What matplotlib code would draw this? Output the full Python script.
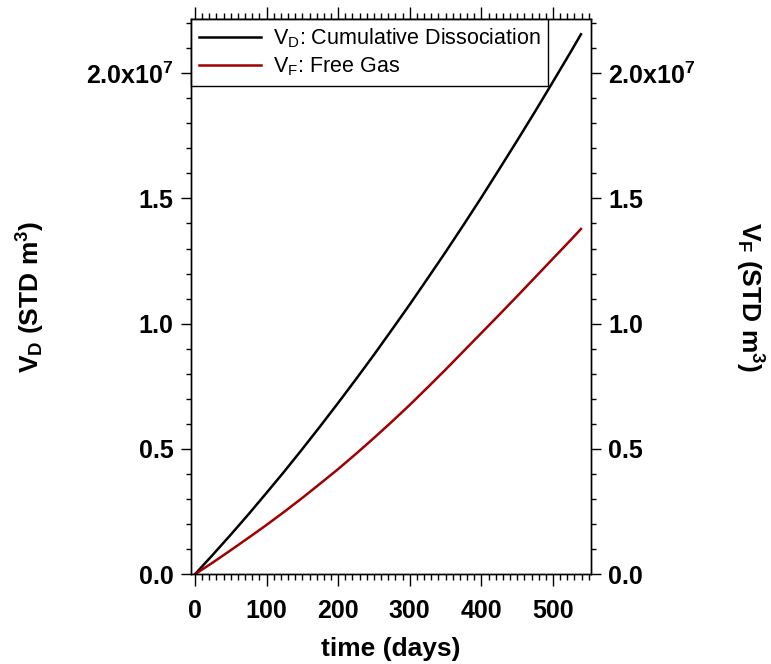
import numpy as np
import matplotlib
matplotlib.use("Agg")
import matplotlib.pyplot as plt
from matplotlib.ticker import MultipleLocator, FuncFormatter

plt.rcParams['font.family'] = ['Liberation Sans', 'DejaVu Sans']
plt.rcParams['mathtext.fontset'] = 'custom'
plt.rcParams['mathtext.rm'] = 'Liberation Sans'
plt.rcParams['mathtext.it'] = 'Liberation Sans:italic'
plt.rcParams['mathtext.bf'] = 'Liberation Sans:bold'

# time (days) and volumes (STD m^3, in units of 1e7)
time_days = [0, 25, 50, 75, 100, 125, 150, 175, 200, 225, 250, 275, 300,
             325, 350, 375, 400, 425, 450, 475, 500, 525, 539]
v_d = [0, 0.078, 0.158, 0.240, 0.325, 0.411, 0.500, 0.591, 0.684, 0.779,
       0.876, 0.976, 1.077, 1.181, 1.286, 1.394, 1.504, 1.617, 1.731, 1.847,
       1.966, 2.086, 2.155]
v_f = [0, 0.047, 0.096, 0.146, 0.197, 0.250, 0.305, 0.362, 0.420, 0.481,
       0.544, 0.609, 0.676, 0.746, 0.817, 0.890, 0.963, 1.036, 1.110, 1.185,
       1.260, 1.335, 1.378]
scale = 1e7

labels = [r'V$_\mathrm{D}$: Cumulative Dissociation', r'V$_\mathrm{F}$: Free Gas']
red = '#a00000'


def fmt(v, pos):
    v = round(v / scale, 1)
    if v == 2.0:
        return r'2.0x10$^{\mathbf{7}}$'
    return f'{v:.1f}'


fig = plt.figure(figsize=(7.71, 6.64), dpi=100)
ax = fig.add_axes([0.2477, 0.1351, 0.5188, 0.8363])

ax.plot(time_days, np.array(v_d) * scale, color='black', lw=1.8, label=labels[0])
ax.plot(time_days, np.array(v_f) * scale, color=red, lw=1.8, label=labels[1])

ax.set_xlim(-5.5, 553)
ax.set_ylim(0, 2.216e7)

ax.xaxis.set_major_locator(MultipleLocator(100))
ax.xaxis.set_minor_locator(MultipleLocator(10))
ax.yaxis.set_major_locator(MultipleLocator(0.5e7))
ax.yaxis.set_minor_locator(MultipleLocator(0.1e7))
ax.yaxis.set_major_formatter(FuncFormatter(fmt))

ax2 = ax.twinx()
ax2.set_ylim(ax.get_ylim())
ax2.yaxis.set_major_locator(MultipleLocator(0.5e7))
ax2.yaxis.set_minor_locator(MultipleLocator(0.1e7))
ax2.yaxis.set_major_formatter(FuncFormatter(fmt))

for a in (ax, ax2):
    a.tick_params(which='major', direction='out', length=7.5, width=1,
                  labelsize=18, pad=5)
    a.tick_params(which='minor', direction='out', length=3.8, width=1)
    for lab in a.get_xticklabels() + a.get_yticklabels():
        lab.set_fontweight('bold')
    for s in a.spines.values():
        s.set_linewidth(1)
ax.tick_params(axis='x', which='both', top=True)
ax.tick_params(axis='x', which='major', length=8.5, pad=9)
ax.tick_params(axis='x', which='minor', length=4.3)

ax.set_xlabel('time (days)', fontsize=19, fontweight='bold')
ax.set_ylabel(r'V$_\mathbf{D}$ (STD m$^\mathbf{3}$)', fontsize=19, fontweight='bold')
ax2.set_ylabel(r'V$_\mathbf{F}$ (STD m$^\mathbf{3}$)', fontsize=19, fontweight='bold',
               rotation=270)
ax2.yaxis.label.set_verticalalignment('bottom')
ax.yaxis.set_label_coords(-0.36, 0.5)
ax2.yaxis.set_label_coords(1.355, 0.5)
ax.xaxis.set_label_coords(0.5, -0.113)

leg = ax.legend(loc='upper left', fontsize=15.5, frameon=True, fancybox=False,
                edgecolor='black', framealpha=1, borderaxespad=0,
                handlelength=2.9, borderpad=0.35, labelspacing=0.25,
                handletextpad=0.55)
leg.get_frame().set_linewidth(1)

fig.savefig('out.png', dpi=100)
